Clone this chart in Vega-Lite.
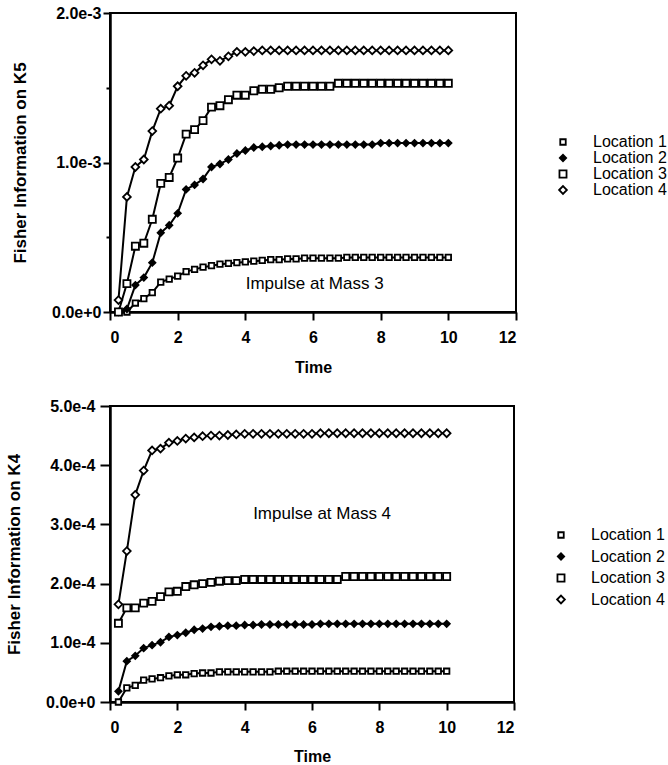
{
  "$schema": "https://vega.github.io/schema/vega-lite/v6.json",
  "background": "white",
  "padding": {"left": 4, "top": 4, "right": 0, "bottom": 0},
  "spacing": 21,
  "align": "none",
  "resolve": {"scale": {"shape": "independent", "fill": "independent", "size": "independent", "strokeWidth": "independent"}, "legend": {"shape": "independent", "fill": "independent", "size": "independent", "strokeWidth": "independent"}},
  "datasets": {
    "mass3": [
      {"time":0.25,"location":"Location 1","fi":0},{"time":0.5,"location":"Location 1","fi":0},{"time":0.75,"location":"Location 1","fi":0.00006},{"time":1,"location":"Location 1","fi":0.00009},{"time":1.25,"location":"Location 1","fi":0.00013},{"time":1.5,"location":"Location 1","fi":0.0002},{"time":1.75,"location":"Location 1","fi":0.00022},{"time":2,"location":"Location 1","fi":0.00024},{"time":2.25,"location":"Location 1","fi":0.00027},{"time":2.5,"location":"Location 1","fi":0.000285},{"time":2.75,"location":"Location 1","fi":0.0003},{"time":3,"location":"Location 1","fi":0.00031},{"time":3.25,"location":"Location 1","fi":0.00032},{"time":3.5,"location":"Location 1","fi":0.000325},{"time":3.75,"location":"Location 1","fi":0.00033},{"time":4,"location":"Location 1","fi":0.000335},{"time":4.25,"location":"Location 1","fi":0.00034},{"time":4.5,"location":"Location 1","fi":0.000345},{"time":4.75,"location":"Location 1","fi":0.00035},{"time":5,"location":"Location 1","fi":0.00035},{"time":5.25,"location":"Location 1","fi":0.000355},{"time":5.5,"location":"Location 1","fi":0.000355},{"time":5.75,"location":"Location 1","fi":0.00036},{"time":6,"location":"Location 1","fi":0.00036},{"time":6.25,"location":"Location 1","fi":0.00036},{"time":6.5,"location":"Location 1","fi":0.00036},{"time":6.75,"location":"Location 1","fi":0.00036},{"time":7,"location":"Location 1","fi":0.000365},{"time":7.25,"location":"Location 1","fi":0.000365},{"time":7.5,"location":"Location 1","fi":0.000365},{"time":7.75,"location":"Location 1","fi":0.000365},{"time":8,"location":"Location 1","fi":0.000365},{"time":8.25,"location":"Location 1","fi":0.000365},{"time":8.5,"location":"Location 1","fi":0.000365},{"time":8.75,"location":"Location 1","fi":0.000365},{"time":9,"location":"Location 1","fi":0.000365},{"time":9.25,"location":"Location 1","fi":0.000365},{"time":9.5,"location":"Location 1","fi":0.000365},{"time":9.75,"location":"Location 1","fi":0.000365},{"time":10,"location":"Location 1","fi":0.000365},
      {"time":0.25,"location":"Location 2","fi":0},{"time":0.5,"location":"Location 2","fi":0.00002},{"time":0.75,"location":"Location 2","fi":0.00018},{"time":1,"location":"Location 2","fi":0.00023},{"time":1.25,"location":"Location 2","fi":0.00033},{"time":1.5,"location":"Location 2","fi":0.00053},{"time":1.75,"location":"Location 2","fi":0.00058},{"time":2,"location":"Location 2","fi":0.00066},{"time":2.25,"location":"Location 2","fi":0.00082},{"time":2.5,"location":"Location 2","fi":0.00085},{"time":2.75,"location":"Location 2","fi":0.00089},{"time":3,"location":"Location 2","fi":0.00097},{"time":3.25,"location":"Location 2","fi":0.00099},{"time":3.5,"location":"Location 2","fi":0.00102},{"time":3.75,"location":"Location 2","fi":0.00106},{"time":4,"location":"Location 2","fi":0.00108},{"time":4.25,"location":"Location 2","fi":0.0011},{"time":4.5,"location":"Location 2","fi":0.001105},{"time":4.75,"location":"Location 2","fi":0.00111},{"time":5,"location":"Location 2","fi":0.001115},{"time":5.25,"location":"Location 2","fi":0.00112},{"time":5.5,"location":"Location 2","fi":0.00112},{"time":5.75,"location":"Location 2","fi":0.00112},{"time":6,"location":"Location 2","fi":0.00112},{"time":6.25,"location":"Location 2","fi":0.00112},{"time":6.5,"location":"Location 2","fi":0.00112},{"time":6.75,"location":"Location 2","fi":0.00112},{"time":7,"location":"Location 2","fi":0.00112},{"time":7.25,"location":"Location 2","fi":0.00112},{"time":7.5,"location":"Location 2","fi":0.00112},{"time":7.75,"location":"Location 2","fi":0.00112},{"time":8,"location":"Location 2","fi":0.00113},{"time":8.25,"location":"Location 2","fi":0.00113},{"time":8.5,"location":"Location 2","fi":0.00113},{"time":8.75,"location":"Location 2","fi":0.00113},{"time":9,"location":"Location 2","fi":0.00113},{"time":9.25,"location":"Location 2","fi":0.00113},{"time":9.5,"location":"Location 2","fi":0.00113},{"time":9.75,"location":"Location 2","fi":0.00113},{"time":10,"location":"Location 2","fi":0.00113},
      {"time":0.25,"location":"Location 3","fi":0},{"time":0.5,"location":"Location 3","fi":0.00019},{"time":0.75,"location":"Location 3","fi":0.00044},{"time":1,"location":"Location 3","fi":0.00046},{"time":1.25,"location":"Location 3","fi":0.00062},{"time":1.5,"location":"Location 3","fi":0.00086},{"time":1.75,"location":"Location 3","fi":0.0009},{"time":2,"location":"Location 3","fi":0.00103},{"time":2.25,"location":"Location 3","fi":0.00119},{"time":2.5,"location":"Location 3","fi":0.00122},{"time":2.75,"location":"Location 3","fi":0.00128},{"time":3,"location":"Location 3","fi":0.00137},{"time":3.25,"location":"Location 3","fi":0.00138},{"time":3.5,"location":"Location 3","fi":0.00142},{"time":3.75,"location":"Location 3","fi":0.00145},{"time":4,"location":"Location 3","fi":0.00145},{"time":4.25,"location":"Location 3","fi":0.00148},{"time":4.5,"location":"Location 3","fi":0.00149},{"time":4.75,"location":"Location 3","fi":0.00149},{"time":5,"location":"Location 3","fi":0.0015},{"time":5.25,"location":"Location 3","fi":0.00151},{"time":5.5,"location":"Location 3","fi":0.00151},{"time":5.75,"location":"Location 3","fi":0.00151},{"time":6,"location":"Location 3","fi":0.00151},{"time":6.25,"location":"Location 3","fi":0.00151},{"time":6.5,"location":"Location 3","fi":0.00151},{"time":6.75,"location":"Location 3","fi":0.00153},{"time":7,"location":"Location 3","fi":0.00153},{"time":7.25,"location":"Location 3","fi":0.00153},{"time":7.5,"location":"Location 3","fi":0.00153},{"time":7.75,"location":"Location 3","fi":0.00153},{"time":8,"location":"Location 3","fi":0.00153},{"time":8.25,"location":"Location 3","fi":0.00153},{"time":8.5,"location":"Location 3","fi":0.00153},{"time":8.75,"location":"Location 3","fi":0.00153},{"time":9,"location":"Location 3","fi":0.00153},{"time":9.25,"location":"Location 3","fi":0.00153},{"time":9.5,"location":"Location 3","fi":0.00153},{"time":9.75,"location":"Location 3","fi":0.00153},{"time":10,"location":"Location 3","fi":0.00153},
      {"time":0.25,"location":"Location 4","fi":0.00008},{"time":0.5,"location":"Location 4","fi":0.00077},{"time":0.75,"location":"Location 4","fi":0.00097},{"time":1,"location":"Location 4","fi":0.00102},{"time":1.25,"location":"Location 4","fi":0.00121},{"time":1.5,"location":"Location 4","fi":0.00136},{"time":1.75,"location":"Location 4","fi":0.00138},{"time":2,"location":"Location 4","fi":0.00151},{"time":2.25,"location":"Location 4","fi":0.00158},{"time":2.5,"location":"Location 4","fi":0.0016},{"time":2.75,"location":"Location 4","fi":0.00165},{"time":3,"location":"Location 4","fi":0.00169},{"time":3.25,"location":"Location 4","fi":0.00168},{"time":3.5,"location":"Location 4","fi":0.00171},{"time":3.75,"location":"Location 4","fi":0.00174},{"time":4,"location":"Location 4","fi":0.00174},{"time":4.25,"location":"Location 4","fi":0.001745},{"time":4.5,"location":"Location 4","fi":0.00175},{"time":4.75,"location":"Location 4","fi":0.00175},{"time":5,"location":"Location 4","fi":0.00175},{"time":5.25,"location":"Location 4","fi":0.00175},{"time":5.5,"location":"Location 4","fi":0.00175},{"time":5.75,"location":"Location 4","fi":0.00175},{"time":6,"location":"Location 4","fi":0.00175},{"time":6.25,"location":"Location 4","fi":0.00175},{"time":6.5,"location":"Location 4","fi":0.00175},{"time":6.75,"location":"Location 4","fi":0.00175},{"time":7,"location":"Location 4","fi":0.00175},{"time":7.25,"location":"Location 4","fi":0.00175},{"time":7.5,"location":"Location 4","fi":0.00175},{"time":7.75,"location":"Location 4","fi":0.00175},{"time":8,"location":"Location 4","fi":0.00175},{"time":8.25,"location":"Location 4","fi":0.00175},{"time":8.5,"location":"Location 4","fi":0.00175},{"time":8.75,"location":"Location 4","fi":0.00175},{"time":9,"location":"Location 4","fi":0.00175},{"time":9.25,"location":"Location 4","fi":0.00175},{"time":9.5,"location":"Location 4","fi":0.00175},{"time":9.75,"location":"Location 4","fi":0.00175},{"time":10,"location":"Location 4","fi":0.00175}
    ],
    "mass4": [
      {"time":0.25,"location":"Location 1","fi":0},{"time":0.5,"location":"Location 1","fi":0.000024},{"time":0.75,"location":"Location 1","fi":0.000028},{"time":1,"location":"Location 1","fi":0.000037},{"time":1.25,"location":"Location 1","fi":0.000039},{"time":1.5,"location":"Location 1","fi":0.000041},{"time":1.75,"location":"Location 1","fi":0.000044},{"time":2,"location":"Location 1","fi":0.000046},{"time":2.25,"location":"Location 1","fi":0.000046},{"time":2.5,"location":"Location 1","fi":0.000048},{"time":2.75,"location":"Location 1","fi":0.000049},{"time":3,"location":"Location 1","fi":0.000049},{"time":3.25,"location":"Location 1","fi":0.000051},{"time":3.5,"location":"Location 1","fi":0.000051},{"time":3.75,"location":"Location 1","fi":0.000051},{"time":4,"location":"Location 1","fi":0.000051},{"time":4.25,"location":"Location 1","fi":0.000051},{"time":4.5,"location":"Location 1","fi":0.000051},{"time":4.75,"location":"Location 1","fi":0.000051},{"time":5,"location":"Location 1","fi":0.000052},{"time":5.25,"location":"Location 1","fi":0.000052},{"time":5.5,"location":"Location 1","fi":0.000052},{"time":5.75,"location":"Location 1","fi":0.000052},{"time":6,"location":"Location 1","fi":0.000052},{"time":6.25,"location":"Location 1","fi":0.000052},{"time":6.5,"location":"Location 1","fi":0.000052},{"time":6.75,"location":"Location 1","fi":0.000052},{"time":7,"location":"Location 1","fi":0.000052},{"time":7.25,"location":"Location 1","fi":0.000052},{"time":7.5,"location":"Location 1","fi":0.000052},{"time":7.75,"location":"Location 1","fi":0.000052},{"time":8,"location":"Location 1","fi":0.000052},{"time":8.25,"location":"Location 1","fi":0.000052},{"time":8.5,"location":"Location 1","fi":0.000052},{"time":8.75,"location":"Location 1","fi":0.000052},{"time":9,"location":"Location 1","fi":0.000052},{"time":9.25,"location":"Location 1","fi":0.000052},{"time":9.5,"location":"Location 1","fi":0.000052},{"time":9.75,"location":"Location 1","fi":0.000052},{"time":10,"location":"Location 1","fi":0.000052},
      {"time":0.25,"location":"Location 2","fi":0.000018},{"time":0.5,"location":"Location 2","fi":0.000069},{"time":0.75,"location":"Location 2","fi":0.000078},{"time":1,"location":"Location 2","fi":0.000091},{"time":1.25,"location":"Location 2","fi":0.000096},{"time":1.5,"location":"Location 2","fi":0.000101},{"time":1.75,"location":"Location 2","fi":0.00011},{"time":2,"location":"Location 2","fi":0.000113},{"time":2.25,"location":"Location 2","fi":0.000117},{"time":2.5,"location":"Location 2","fi":0.000122},{"time":2.75,"location":"Location 2","fi":0.000124},{"time":3,"location":"Location 2","fi":0.000127},{"time":3.25,"location":"Location 2","fi":0.000128},{"time":3.5,"location":"Location 2","fi":0.000129},{"time":3.75,"location":"Location 2","fi":0.000129},{"time":4,"location":"Location 2","fi":0.00013},{"time":4.25,"location":"Location 2","fi":0.00013},{"time":4.5,"location":"Location 2","fi":0.000131},{"time":4.75,"location":"Location 2","fi":0.000131},{"time":5,"location":"Location 2","fi":0.000131},{"time":5.25,"location":"Location 2","fi":0.000131},{"time":5.5,"location":"Location 2","fi":0.000131},{"time":5.75,"location":"Location 2","fi":0.000131},{"time":6,"location":"Location 2","fi":0.000131},{"time":6.25,"location":"Location 2","fi":0.000132},{"time":6.5,"location":"Location 2","fi":0.000132},{"time":6.75,"location":"Location 2","fi":0.000132},{"time":7,"location":"Location 2","fi":0.000132},{"time":7.25,"location":"Location 2","fi":0.000132},{"time":7.5,"location":"Location 2","fi":0.000132},{"time":7.75,"location":"Location 2","fi":0.000132},{"time":8,"location":"Location 2","fi":0.000132},{"time":8.25,"location":"Location 2","fi":0.000132},{"time":8.5,"location":"Location 2","fi":0.000132},{"time":8.75,"location":"Location 2","fi":0.000132},{"time":9,"location":"Location 2","fi":0.000132},{"time":9.25,"location":"Location 2","fi":0.000132},{"time":9.5,"location":"Location 2","fi":0.000132},{"time":9.75,"location":"Location 2","fi":0.000132},{"time":10,"location":"Location 2","fi":0.000132},
      {"time":0.25,"location":"Location 3","fi":0.000133},{"time":0.5,"location":"Location 3","fi":0.000159},{"time":0.75,"location":"Location 3","fi":0.000159},{"time":1,"location":"Location 3","fi":0.000167},{"time":1.25,"location":"Location 3","fi":0.00017},{"time":1.5,"location":"Location 3","fi":0.000178},{"time":1.75,"location":"Location 3","fi":0.000186},{"time":2,"location":"Location 3","fi":0.000187},{"time":2.25,"location":"Location 3","fi":0.000195},{"time":2.5,"location":"Location 3","fi":0.000198},{"time":2.75,"location":"Location 3","fi":0.0002},{"time":3,"location":"Location 3","fi":0.000202},{"time":3.25,"location":"Location 3","fi":0.000204},{"time":3.5,"location":"Location 3","fi":0.000205},{"time":3.75,"location":"Location 3","fi":0.000205},{"time":4,"location":"Location 3","fi":0.000207},{"time":4.25,"location":"Location 3","fi":0.000207},{"time":4.5,"location":"Location 3","fi":0.000207},{"time":4.75,"location":"Location 3","fi":0.000207},{"time":5,"location":"Location 3","fi":0.000207},{"time":5.25,"location":"Location 3","fi":0.000207},{"time":5.5,"location":"Location 3","fi":0.000207},{"time":5.75,"location":"Location 3","fi":0.000207},{"time":6,"location":"Location 3","fi":0.000207},{"time":6.25,"location":"Location 3","fi":0.000207},{"time":6.5,"location":"Location 3","fi":0.000207},{"time":6.75,"location":"Location 3","fi":0.000207},{"time":7,"location":"Location 3","fi":0.000212},{"time":7.25,"location":"Location 3","fi":0.000212},{"time":7.5,"location":"Location 3","fi":0.000212},{"time":7.75,"location":"Location 3","fi":0.000212},{"time":8,"location":"Location 3","fi":0.000212},{"time":8.25,"location":"Location 3","fi":0.000212},{"time":8.5,"location":"Location 3","fi":0.000212},{"time":8.75,"location":"Location 3","fi":0.000212},{"time":9,"location":"Location 3","fi":0.000212},{"time":9.25,"location":"Location 3","fi":0.000212},{"time":9.5,"location":"Location 3","fi":0.000212},{"time":9.75,"location":"Location 3","fi":0.000212},{"time":10,"location":"Location 3","fi":0.000212},
      {"time":0.25,"location":"Location 4","fi":0.000165},{"time":0.5,"location":"Location 4","fi":0.000255},{"time":0.75,"location":"Location 4","fi":0.00035},{"time":1,"location":"Location 4","fi":0.000391},{"time":1.25,"location":"Location 4","fi":0.000425},{"time":1.5,"location":"Location 4","fi":0.000428},{"time":1.75,"location":"Location 4","fi":0.000438},{"time":2,"location":"Location 4","fi":0.000441},{"time":2.25,"location":"Location 4","fi":0.000445},{"time":2.5,"location":"Location 4","fi":0.000447},{"time":2.75,"location":"Location 4","fi":0.000449},{"time":3,"location":"Location 4","fi":0.00045},{"time":3.25,"location":"Location 4","fi":0.00045},{"time":3.5,"location":"Location 4","fi":0.000451},{"time":3.75,"location":"Location 4","fi":0.000452},{"time":4,"location":"Location 4","fi":0.000453},{"time":4.25,"location":"Location 4","fi":0.000453},{"time":4.5,"location":"Location 4","fi":0.000453},{"time":4.75,"location":"Location 4","fi":0.000453},{"time":5,"location":"Location 4","fi":0.000453},{"time":5.25,"location":"Location 4","fi":0.000453},{"time":5.5,"location":"Location 4","fi":0.000453},{"time":5.75,"location":"Location 4","fi":0.000453},{"time":6,"location":"Location 4","fi":0.000453},{"time":6.25,"location":"Location 4","fi":0.000454},{"time":6.5,"location":"Location 4","fi":0.000454},{"time":6.75,"location":"Location 4","fi":0.000454},{"time":7,"location":"Location 4","fi":0.000454},{"time":7.25,"location":"Location 4","fi":0.000454},{"time":7.5,"location":"Location 4","fi":0.000454},{"time":7.75,"location":"Location 4","fi":0.000454},{"time":8,"location":"Location 4","fi":0.000454},{"time":8.25,"location":"Location 4","fi":0.000454},{"time":8.5,"location":"Location 4","fi":0.000454},{"time":8.75,"location":"Location 4","fi":0.000454},{"time":9,"location":"Location 4","fi":0.000454},{"time":9.25,"location":"Location 4","fi":0.000454},{"time":9.5,"location":"Location 4","fi":0.000454},{"time":9.75,"location":"Location 4","fi":0.000454},{"time":10,"location":"Location 4","fi":0.000454}
    ]
  },
  "vconcat": [
    {
      "width": 406,
      "height": 299,
      "layer": [
        {
          "data": {"name": "mass3"},
          "mark": {"type": "line", "color": "black", "strokeWidth": 2},
          "encoding": {
            "x": {"field": "time", "type": "quantitative", "title": "Time",
                  "scale": {"domain": [0, 12], "nice": false},
                  "axis": {"values": [0,1,2,3,4,5,6,7,8,9,10,11,12], "labelExpr": "datum.value % 2 === 0 ? datum.label : ''",
                           "tickSize": {"condition": {"test": "datum.value % 2 === 1", "value": 3}, "value": 8},
                           "labelPadding": 9, "titlePadding": 14, "labelOverlap": false}},
            "y": {"field": "fi", "type": "quantitative", "title": "Fisher Information on K5",
                  "scale": {"domain": [0, 0.002], "nice": false},
                  "axis": {"values": [0, 0.0005, 0.001, 0.0015, 0.002],
                           "labelExpr": "round(datum.value * 2000) % 2 === 0 ? format(datum.value, '.1e') : ''",
                           "tickSize": {"condition": {"test": "round(datum.value * 2000) % 2 === 1", "value": 4}, "value": 7},
                           "labelPadding": 2, "titlePadding": 22, "titleFontSize": 17, "labelOverlap": false}},
            "detail": {"field": "location", "type": "nominal"}
          }
        },
        {
          "data": {"name": "mass3"},
          "mark": {"type": "point", "filled": true, "stroke": "black", "opacity": 1},
          "encoding": {
            "x": {"field": "time", "type": "quantitative"},
            "y": {"field": "fi", "type": "quantitative"},
            "shape": {"field": "location", "type": "nominal",
                      "scale": {"domain": ["Location 1","Location 2","Location 3","Location 4"], "range": ["square","diamond","square","diamond"]},
                      "legend": {"orient": "none", "legendX": 445, "legendY": 121, "rowPadding": 0, "title": null}},
            "fill": {"field": "location", "type": "nominal",
                     "scale": {"domain": ["Location 1","Location 2","Location 3","Location 4"], "range": ["white","black","white","white"]}},
            "size": {"field": "location", "type": "ordinal",
                     "scale": {"domain": ["Location 1","Location 2","Location 3","Location 4"], "range": [30, 60, 64, 60]}},
            "strokeWidth": {"field": "location", "type": "ordinal",
                     "scale": {"domain": ["Location 1","Location 2","Location 3","Location 4"], "range": [1.8, 1.8, 2.6, 1.8]}}
          }
        },
        {
          "data": {"values": [{"note": "Impulse at Mass 3"}]},
          "mark": {"type": "text", "font": "Liberation Sans", "fontSize": 17, "color": "black"},
          "encoding": {
            "x": {"datum": 6.05, "type": "quantitative"},
            "y": {"datum": 0.000187, "type": "quantitative"},
            "text": {"field": "note", "type": "nominal"}
          }
        }
      ]
    },
    {
      "width": 404,
      "height": 296,
      "layer": [
        {
          "data": {"name": "mass4"},
          "mark": {"type": "line", "color": "black", "strokeWidth": 2},
          "encoding": {
            "x": {"field": "time", "type": "quantitative", "title": "Time",
                  "scale": {"domain": [0, 12], "nice": false},
                  "axis": {"values": [0,1,2,3,4,5,6,7,8,9,10,11,12], "labelExpr": "datum.value % 2 === 0 ? datum.label : ''",
                           "tickSize": {"condition": {"test": "datum.value % 2 === 1", "value": 3}, "value": 8},
                           "labelPadding": 9, "titlePadding": 13, "labelOverlap": false}},
            "y": {"field": "fi", "type": "quantitative", "title": "Fisher Information on K4",
                  "scale": {"domain": [0, 0.0005], "nice": false},
                  "axis": {"values": [0, 0.00005, 0.0001, 0.00015, 0.0002, 0.00025, 0.0003, 0.00035, 0.0004, 0.00045, 0.0005],
                           "labelExpr": "round(datum.value * 20000) % 2 === 0 ? format(datum.value, '.1e') : ''",
                           "tickSize": {"condition": {"test": "round(datum.value * 20000) % 2 === 1", "value": 5}, "value": 10},
                           "labelPadding": 5, "titlePadding": 22, "titleFontSize": 17, "labelOverlap": false}},
            "detail": {"field": "location", "type": "nominal"}
          }
        },
        {
          "data": {"name": "mass4"},
          "mark": {"type": "point", "filled": true, "stroke": "black", "opacity": 1},
          "encoding": {
            "x": {"field": "time", "type": "quantitative"},
            "y": {"field": "fi", "type": "quantitative"},
            "shape": {"field": "location", "type": "nominal",
                      "scale": {"domain": ["Location 1","Location 2","Location 3","Location 4"], "range": ["square","diamond","square","diamond"]},
                      "legend": {"orient": "none", "legendX": 443, "legendY": 121, "rowPadding": 5.5, "title": null}},
            "fill": {"field": "location", "type": "nominal",
                     "scale": {"domain": ["Location 1","Location 2","Location 3","Location 4"], "range": ["white","black","white","white"]}},
            "size": {"field": "location", "type": "ordinal",
                     "scale": {"domain": ["Location 1","Location 2","Location 3","Location 4"], "range": [30, 60, 64, 60]}},
            "strokeWidth": {"field": "location", "type": "ordinal",
                     "scale": {"domain": ["Location 1","Location 2","Location 3","Location 4"], "range": [1.8, 1.8, 2.6, 1.8]}}
          }
        },
        {
          "data": {"values": [{"note": "Impulse at Mass 4"}]},
          "mark": {"type": "text", "font": "Liberation Sans", "fontSize": 17, "color": "black"},
          "encoding": {
            "x": {"datum": 6.3, "type": "quantitative"},
            "y": {"datum": 0.000317, "type": "quantitative"},
            "text": {"field": "note", "type": "nominal"}
          }
        }
      ]
    }
  ],
  "config": {
    "view": {"stroke": "black", "strokeWidth": 2},
    "axis": {
      "grid": false,
      "labelFont": "Liberation Sans", "labelFontWeight": "bold", "labelFontSize": 16, "labelColor": "black",
      "titleFont": "Liberation Sans", "titleFontWeight": "bold", "titleFontSize": 16, "titleColor": "black",
      "domainColor": "black", "domainWidth": 2.5, "tickColor": "black", "tickWidth": 2
    },
    "legend": {
      "padding": 0, "labelFont": "Liberation Sans", "labelFontSize": 16, "labelColor": "black",
      "labelOffset": 22, "symbolSize": 196
    }
  }
}
